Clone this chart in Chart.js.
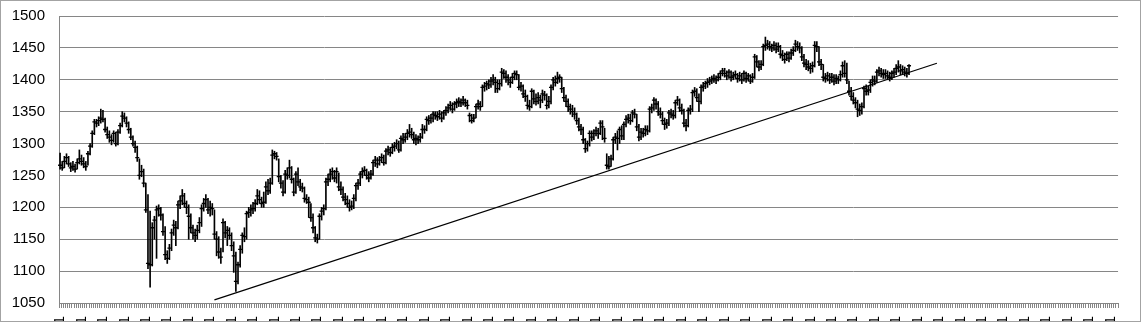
<!DOCTYPE html>
<html>
<head>
<title>HLC chart</title>
<script src="https://cdn.jsdelivr.net/npm/chart.js"></script>
<style>
  html, body { margin: 0; padding: 0; background: #fff; overflow: hidden; }
  #wrap { position: relative; width: 1143px; height: 322px; overflow: hidden; }
  #box { position: absolute; left: 0; top: 0; width: 1143px; height: 345px; }
  #frame { position: absolute; left: 0; top: 0; width: 1139px; height: 320px; border: 1px solid #a3a3a3; pointer-events: none; }
</style>
</head>
<body>
<div id="wrap">
  <div id="box"><canvas id="myChart"></canvas></div>
  <div id="frame"></div>
</div>
<script>
// daily high / low / close
var highs = [
  1285,1272,1280,1284,1280,1270,1272,1268,1276,1290,
  1282,1278,1272,1288,1300,1320,1338,1338,1342,1354,
  1352,1340,1326,1320,1314,1320,1318,1322,1332,1350,
  1348,1342,1334,1324,1312,1304,1296,1276,1266,1260,
  1238,1220,1194,1176,1186,1202,1204,1200,1190,1170,
  1132,1142,1166,1180,1178,1210,1218,1228,1222,1210,
  1204,1190,1172,1166,1172,1184,1204,1214,1220,1214,
  1210,1206,1196,1162,1154,1136,1182,1178,1170,1168,
  1160,1146,1130,1114,1140,1160,1168,1194,1200,1204,
  1208,1212,1228,1226,1216,1224,1240,1244,1246,1290,
  1288,1286,1276,1250,1242,1258,1262,1274,1264,1246,
  1256,1262,1244,1238,1232,1220,1216,1206,1190,1170,
  1158,1190,1200,1204,1246,1252,1260,1262,1258,1262,
  1254,1240,1232,1222,1218,1212,1210,1220,1238,1244,
  1256,1262,1264,1260,1256,1258,1274,1280,1278,1280,
  1284,1282,1292,1296,1294,1300,1302,1306,1304,1312,
  1316,1316,1322,1330,1324,1318,1314,1312,1316,1330,
  1328,1342,1344,1346,1350,1350,1350,1352,1350,1352,
  1358,1362,1366,1364,1366,1370,1372,1370,1374,1370,
  1368,1348,1346,1346,1362,1368,1366,1392,1396,1398,
  1400,1404,1408,1404,1400,1400,1418,1416,1414,1408,
  1404,1410,1414,1414,1408,1396,1392,1384,1376,1368,
  1386,1384,1378,1380,1376,1384,1382,1378,1374,1392,
  1404,1406,1412,1408,1404,1388,1376,1370,1362,1360,
  1356,1348,1340,1330,1326,1308,1304,1320,1320,1322,
  1326,1324,1336,1336,1324,1284,1280,1282,1310,1316,
  1320,1326,1328,1334,1344,1346,1346,1352,1354,1346,
  1330,1324,1324,1328,1328,1358,1362,1372,1370,1366,
  1356,1350,1340,1338,1352,1354,1352,1368,1374,1370,
  1362,1354,1338,1356,1360,1384,1388,1386,1378,1392,
  1396,1398,1402,1404,1406,1408,1406,1410,1414,1418,
  1418,1414,1416,1414,1412,1414,1410,1412,1410,1414,
  1412,1410,1408,1410,1440,1438,1430,1430,1456,1467,
  1462,1460,1456,1460,1458,1458,1454,1446,1442,1444,
  1444,1448,1452,1462,1460,1458,1452,1440,1432,1430,
  1426,1428,1460,1460,1452,1432,1424,1410,1412,1410,
  1410,1408,1408,1406,1414,1428,1430,1426,1398,1388,
  1380,1372,1368,1362,1364,1390,1392,1390,1400,1406,
  1406,1416,1420,1418,1416,1416,1414,1412,1414,1418,
  1424,1430,1424,1422,1420,1418,1424
];
var lows = [
  1260,1258,1262,1268,1264,1256,1258,1255,1260,1268,
  1266,1262,1258,1266,1282,1294,1314,1326,1328,1332,
  1334,1318,1308,1302,1298,1302,1296,1298,1316,1326,
  1334,1326,1316,1306,1296,1286,1272,1244,1248,1232,
  1192,1104,1075,1108,1150,1120,1186,1180,1156,1118,
  1112,1118,1132,1156,1140,1166,1198,1204,1200,1190,
  1150,1160,1150,1146,1150,1160,1170,1194,1200,1190,
  1186,1188,1150,1124,1120,1112,1130,1152,1140,1150,
  1132,1098,1068,1080,1106,1128,1146,1150,1184,1186,
  1190,1194,1204,1206,1200,1200,1206,1220,1222,1236,
  1276,1274,1240,1230,1218,1222,1244,1246,1238,1218,
  1222,1234,1226,1224,1208,1206,1184,1178,1160,1146,
  1144,1150,1180,1188,1196,1234,1240,1244,1240,1238,
  1226,1220,1210,1204,1200,1194,1196,1198,1210,1228,
  1234,1246,1250,1244,1240,1244,1250,1264,1262,1266,
  1270,1266,1268,1282,1280,1284,1288,1292,1286,1288,
  1300,1302,1306,1310,1308,1300,1298,1300,1302,1308,
  1316,1320,1330,1332,1334,1338,1336,1338,1334,1338,
  1344,1348,1352,1348,1352,1356,1358,1358,1360,1358,
  1354,1334,1332,1334,1340,1354,1352,1358,1382,1384,
  1386,1388,1392,1380,1380,1384,1390,1402,1396,1392,
  1388,1394,1400,1400,1384,1382,1372,1366,1354,1352,
  1356,1362,1360,1362,1356,1364,1368,1354,1356,1362,
  1384,1390,1394,1396,1380,1366,1358,1350,1346,1342,
  1338,1330,1320,1314,1300,1286,1288,1296,1304,1306,
  1312,1308,1314,1306,1302,1260,1260,1264,1274,1300,
  1290,1300,1306,1306,1326,1332,1330,1334,1340,1320,
  1304,1306,1310,1312,1314,1318,1348,1352,1354,1344,
  1340,1330,1322,1324,1328,1340,1338,1340,1360,1350,
  1346,1326,1320,1326,1346,1350,1374,1366,1350,1362,
  1382,1386,1388,1392,1394,1396,1394,1398,1400,1406,
  1404,1400,1402,1398,1400,1402,1396,1398,1394,1398,
  1396,1398,1394,1396,1402,1420,1414,1416,1422,1446,
  1448,1446,1444,1446,1442,1444,1434,1430,1426,1430,
  1428,1432,1438,1444,1446,1442,1430,1420,1416,1414,
  1410,1412,1420,1444,1422,1416,1398,1396,1398,1394,
  1396,1392,1394,1394,1398,1404,1404,1394,1376,1368,
  1362,1356,1342,1344,1346,1356,1376,1376,1380,1390,
  1392,1396,1406,1404,1402,1402,1400,1398,1400,1404,
  1408,1412,1408,1408,1406,1404,1408
];
var closes = [
  1266,1262,1272,1278,1268,1262,1264,1260,1270,1276,
  1272,1268,1264,1284,1296,1316,1334,1332,1336,1340,
  1338,1322,1314,1310,1305,1316,1300,1318,1328,1343,
  1340,1332,1322,1310,1300,1294,1278,1250,1256,1238,
  1196,1112,1110,1168,1180,1196,1198,1188,1162,1126,
  1120,1136,1160,1172,1168,1204,1210,1218,1206,1200,
  1186,1168,1160,1156,1164,1176,1198,1206,1212,1196,
  1200,1198,1158,1150,1130,1122,1176,1160,1164,1156,
  1140,1124,1084,1110,1134,1156,1154,1190,1192,1196,
  1198,1206,1218,1212,1206,1208,1232,1226,1238,1282,
  1284,1280,1248,1238,1224,1252,1250,1262,1244,1224,
  1252,1240,1232,1230,1214,1212,1208,1184,1168,1152,
  1150,1186,1194,1198,1240,1244,1252,1256,1246,1256,
  1232,1228,1216,1212,1206,1200,1202,1214,1234,1238,
  1252,1256,1258,1250,1246,1252,1270,1274,1268,1274,
  1278,1270,1288,1290,1286,1294,1296,1300,1290,1308,
  1306,1310,1316,1318,1314,1306,1308,1306,1310,1322,
  1322,1338,1336,1340,1346,1344,1342,1346,1340,1348,
  1352,1356,1360,1354,1362,1364,1366,1364,1368,1364,
  1360,1344,1336,1340,1358,1362,1358,1388,1390,1394,
  1392,1398,1400,1396,1386,1394,1412,1410,1404,1400,
  1396,1404,1410,1408,1388,1390,1378,1374,1360,1358,
  1382,1370,1366,1372,1368,1378,1376,1360,1366,1388,
  1400,1396,1402,1404,1386,1372,1366,1358,1354,1350,
  1346,1336,1326,1322,1306,1292,1300,1316,1310,1316,
  1320,1316,1332,1326,1308,1266,1264,1276,1306,1310,
  1308,1322,1312,1330,1338,1340,1336,1348,1346,1326,
  1310,1318,1316,1322,1320,1354,1356,1368,1362,1350,
  1346,1336,1330,1332,1348,1346,1344,1364,1368,1356,
  1352,1332,1328,1352,1354,1380,1382,1372,1366,1388,
  1390,1394,1396,1398,1400,1402,1400,1404,1410,1414,
  1410,1406,1412,1404,1406,1408,1402,1406,1400,1410,
  1402,1406,1398,1404,1436,1428,1420,1424,1452,1454,
  1456,1452,1450,1454,1448,1452,1440,1438,1432,1440,
  1434,1442,1446,1456,1452,1450,1436,1426,1424,1420,
  1418,1422,1454,1452,1428,1424,1404,1402,1406,1400,
  1404,1398,1402,1400,1408,1422,1410,1400,1382,1374,
  1368,1364,1354,1352,1358,1386,1382,1384,1396,1400,
  1398,1412,1414,1410,1408,1410,1406,1404,1410,1412,
  1418,1420,1414,1416,1412,1410,1422
];

// category axis: 494 slots, every 10th one is labelled "1"
var categoryCount = 494;
var labelEvery = 10;
var tickText = '1';

// trend line: from slot 72 to slot 409
var trendSlots = [72, 409];
var trendValues = [1055, 1426];

var labels = [];
for (var i = 0; i < categoryCount; i++) labels.push(i % labelEvery === 0 ? tickText : '');

var hl = lows.map(function (l, i) { return [l, highs[i]]; });

var trend = new Array(trendSlots[1] + 1).fill(null);
trend[trendSlots[0]] = trendValues[0];
trend[trendSlots[1]] = trendValues[1];

var grey = '#868686';
var fnt = { family: "'Liberation Sans', Arial, sans-serif", size: 15 };

new Chart(document.getElementById('myChart'), {
  type: 'bar',
  data: {
    labels: labels,
    datasets: [
      {
        type: 'line',
        label: 'trend',
        data: trend,
        spanGaps: true,
        borderColor: '#000',
        borderWidth: 1.2,
        pointRadius: 0,
        fill: false
      },
      {
        type: 'line',
        label: 'close',
        data: closes,
        showLine: false,
        pointStyle: 'line',
        pointRadius: 2,
        pointBorderWidth: 1.3,
        pointBorderColor: '#000',
        pointBackgroundColor: '#000'
      },
      {
        label: 'high-low',
        data: hl,
        backgroundColor: '#000',
        borderWidth: 0,
        barThickness: 1
      }
    ]
  },
  options: {
    responsive: true,
    maintainAspectRatio: false,
    animation: false,
    events: [],
    layout: { padding: { top: 16, right: 21, left: 0, bottom: 0 } },
    plugins: {
      legend: { display: false },
      tooltip: { enabled: false }
    },
    scales: {
      x: {
        afterFit: function (s) { s.height = 42; },
        grid: { drawOnChartArea: false, drawTicks: true, tickLength: 5, color: grey, offset: true },
        border: { display: true, color: grey },
        ticks: {
          autoSkip: false,
          minRotation: 90,
          maxRotation: 90,
          padding: 8,
          color: '#000',
          font: fnt
        }
      },
      y: {
        min: 1050,
        max: 1500,
        afterFit: function (s) {
          s.width = 59;
          s.paddingTop = 8;
          s.paddingBottom = 0;
        },
        grid: { color: grey, drawTicks: false },
        border: { display: true, color: grey },
        ticks: {
          stepSize: 25,
          padding: 14,
          color: '#000',
          font: fnt,
          callback: function (v) { return String(v); }
        }
      }
    }
  }
});
</script>
</body>
</html>
